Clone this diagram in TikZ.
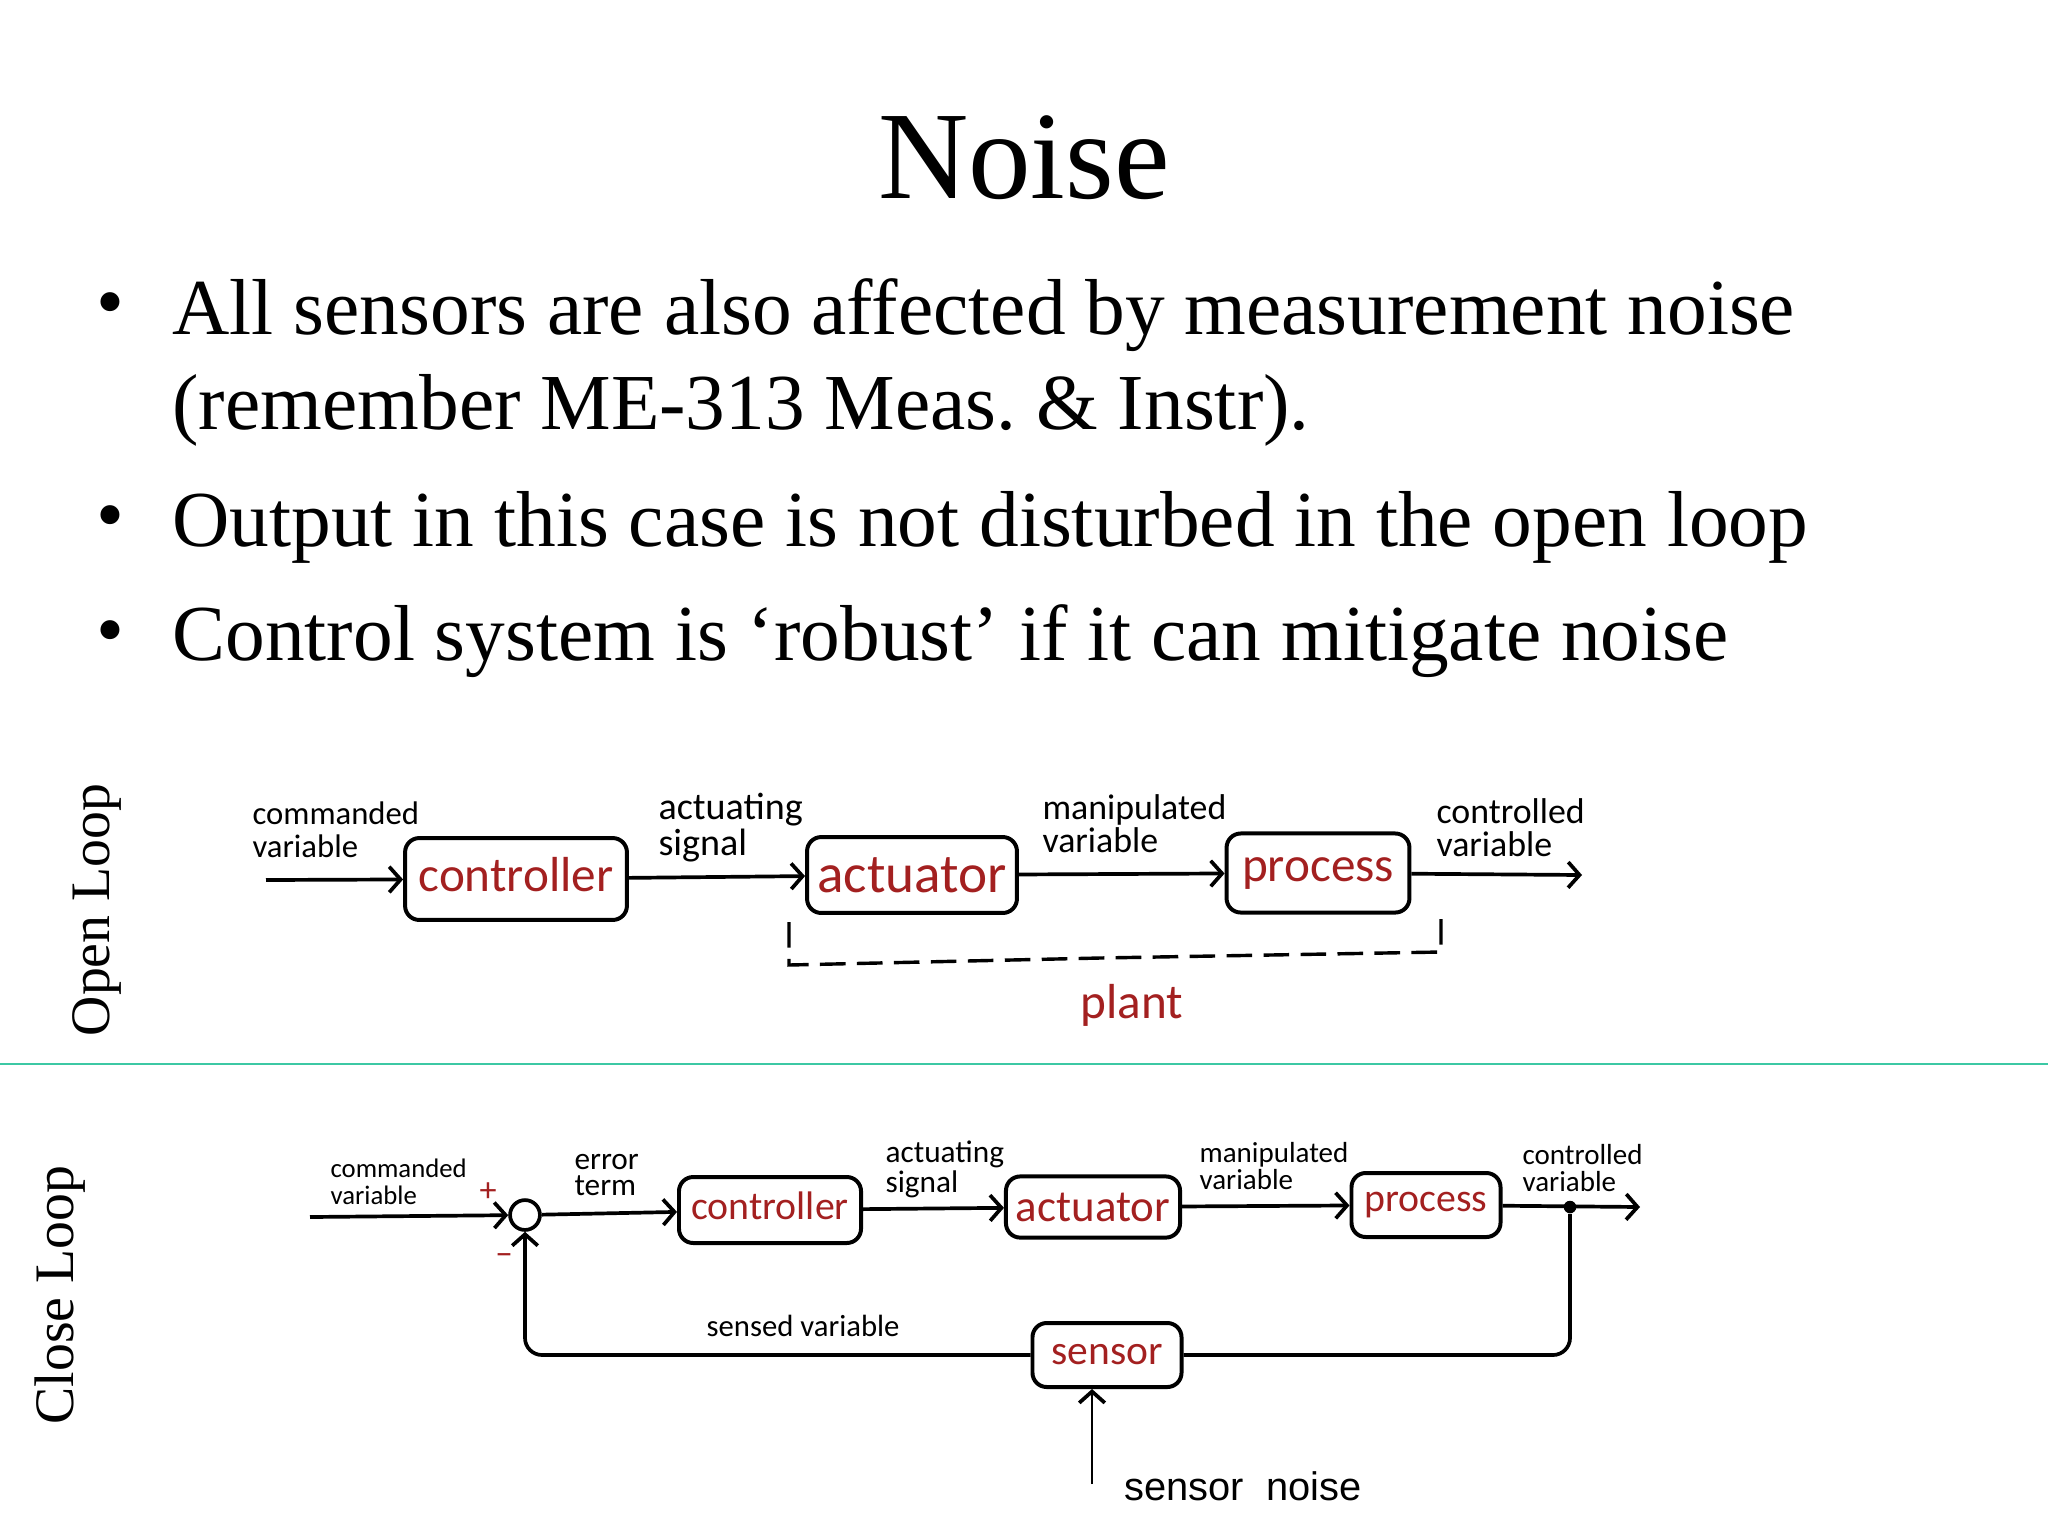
\documentclass[tikz,border=0pt]{standalone}
\usepackage{fontspec}
\setmainfont{Liberation Serif}
\newfontfamily\handfont{Carlito}
\newfontfamily\arialfont{Liberation Sans}
\usepackage{xcolor}
\usetikzlibrary{positioning, arrows.meta}
\definecolor{penred}{HTML}{A32020}
\definecolor{rulegreen}{HTML}{3CC8A4}
\newcommand{\handsize}[1]{\handfont\fontsize{#1}{11.6}\selectfont}

\begin{document}
\begin{tikzpicture}[x=0.3516pt,y=-0.3516pt]
	\tikzstyle{bigbox}=[draw=black,line width=1.4pt,rounded corners=5pt,inner sep=0pt,text=penred,font=\handsize{17.3}]
	\tikzstyle{smallbox}=[bigbox,font=\handsize{14}]
	\tikzstyle{biglabel}=[anchor=west,inner sep=0pt,align=left,font=\handsize{12.6}]
	\tikzstyle{smalllabel}=[anchor=west,inner sep=0pt,align=left,font=\handfont\fontsize{10.2}{9.4}\selectfont]
	\tikzstyle{wire}=[draw=black,line width=1.3pt,>={Straight Barb[length=4pt,width=9pt]}]
	\tikzstyle{bullet}=[anchor=base,inner sep=0pt,font=\fontsize{28}{32}\selectfont]
	\tikzstyle{bodyline}=[anchor=base west,inner sep=0pt,font=\fontsize{27.9}{32}\selectfont]
	\tikzstyle{sideline}=[anchor=base,rotate=90,inner sep=0pt,font=\fontsize{19.6}{22}\selectfont]
	\useasboundingbox (0,0) rectangle (2048,1536);

	\node[anchor=base,inner sep=0pt,font=\fontsize{44}{50}\selectfont](title) at (1024,198) {Noise};
	\node[bullet](b1) at (110,328) {•};
	\node[bullet](b2) at (110,541) {•};
	\node[bullet](b3) at (110,656) {•};
	\node[bodyline](t1) at (172,334) {All sensors are also affected by measurement noise};
	\node[bodyline](t2) at (172,429) {(remember ME-313 Meas.\ \& Instr).};
	\node[bodyline](t3) at (172,546) {Output in this case is not disturbed in the open loop};
	\node[bodyline](t4) at (172,660) {Control system is ‘robust’ if it can mitigate noise};

	\node[sideline](open) at (109,910) {Open Loop};
	\node[sideline](close) at (73,1295) {Close Loop};
	\coordinate (ruleL) at (0,1064);
	\coordinate (ruleR) at (2048,1064);
	\draw[rulegreen,line width=1pt] (ruleL) -- (ruleR);

	% open loop
	\coordinate (in1) at (266,880);
	\coordinate (out1) at (1582,875);
	\node[bigbox,minimum width=78pt,minimum height=28.8pt,text depth=3pt](c1) at (516,879) {controller};
	\node[bigbox,font=\handsize{19.4},minimum width=73.8pt,minimum height=26.7pt](a1) at (912,875) {actuator};
	\node[bigbox,minimum width=64.3pt,minimum height=27.8pt](p1) at (1318,873) {process};
	\path[wire]
		(in1) edge[->] (c1)
		(c1) edge[->] (a1)
		(a1) edge[->] (p1)
		(p1) edge[->] (out1);
	\node[biglabel,font=\handsize{11.5}](n1) at (252,830) {commanded\\variable};
	\node[biglabel,font=\handsize{13.4}](n2) at (658,828) {actuating\\signal};
	\node[biglabel](n3) at (1042,824) {manipulated\\variable};
	\node[biglabel](n4) at (1436,828) {controlled\\variable};
	\coordinate (d1) at (789,922);
	\coordinate (d2) at (789,965);
	\coordinate (d3) at (1100,958);
	\coordinate (d4) at (1441,952);
	\coordinate (d5) at (1441,915);
	\draw[black,line width=1.2pt,dash pattern=on 9pt off 4pt] (d1) -- (d2) -- (d3) -- (d4) -- (d5);
	\node[inner sep=0pt,text=penred,font=\handsize{17.3}](plant) at (1132,1005) {plant};

	% close loop
	\coordinate (in2) at (310,1217);
	\coordinate (out2) at (1640,1207);
	\node[circle,draw=black,line width=1.3pt,minimum size=10.5pt,inner sep=0pt](sum) at (525,1215) {};
	\node[smallbox,minimum width=64pt,minimum height=23.2pt,text depth=3pt](c2) at (770,1210) {controller};
	\node[smallbox,font=\handsize{15.8},minimum width=61.2pt,minimum height=21.5pt](a2) at (1093,1207) {actuator};
	\node[smallbox,minimum width=52.4pt,minimum height=22.5pt](p2) at (1426,1205) {process};
	\node[smallbox,font=\handsize{14.6},minimum width=52.4pt,minimum height=22.5pt](s2) at (1107,1355) {sensor};
	\node[circle,fill=black,inner sep=0pt,minimum size=4.4pt](tap) at (1570,1207) {};
	\path[wire]
		(in2) edge[->] (sum)
		(sum) edge[->] (c2)
		(c2) edge[->] (a2)
		(a2) edge[->] (p2)
		(p2) edge[->] (out2);
	\draw[wire,rounded corners=6pt] (tap) |- (s2);
	\draw[wire,->,rounded corners=6pt] (s2) -| (sum);
	\node[smalllabel,font=\handfont\fontsize{9.4}{9.4}\selectfont](m1) at (330,1182) {commanded\\variable};
	\node[smalllabel,font=\handfont\fontsize{11}{9.4}\selectfont](m2) at (574,1175) {error\\term};
	\node[smalllabel,font=\handfont\fontsize{11}{9.4}\selectfont](m3) at (885,1169) {actuating\\signal};
	\node[smalllabel](m4) at (1199,1166) {manipulated\\variable};
	\node[smalllabel](m5) at (1522,1168) {controlled\\variable};
	\node[smalllabel,anchor=base west,font=\handfont\fontsize{10.8}{11}\selectfont](m6) at (706,1336) {sensed variable};
	\node[inner sep=0pt,text=penred,font=\handsize{12}](plus) at (488,1192) {+};
	\node[inner sep=0pt,text=penred,font=\handsize{12}](minus) at (504,1260) {−};

	% sensor noise
	\node[anchor=base west,inner sep=0pt,font=\arialfont\fontsize{14}{16}\selectfont](noise) at (1124,1500) {sensor\ \ noise};
	\coordinate (n0) at (1092,1484);
	\draw[line width=0.5pt,-{Straight Barb[length=4pt,width=9pt,line width=1.3pt]}] (n0) -- (s2.south -| n0);
\end{tikzpicture}
\end{document}
